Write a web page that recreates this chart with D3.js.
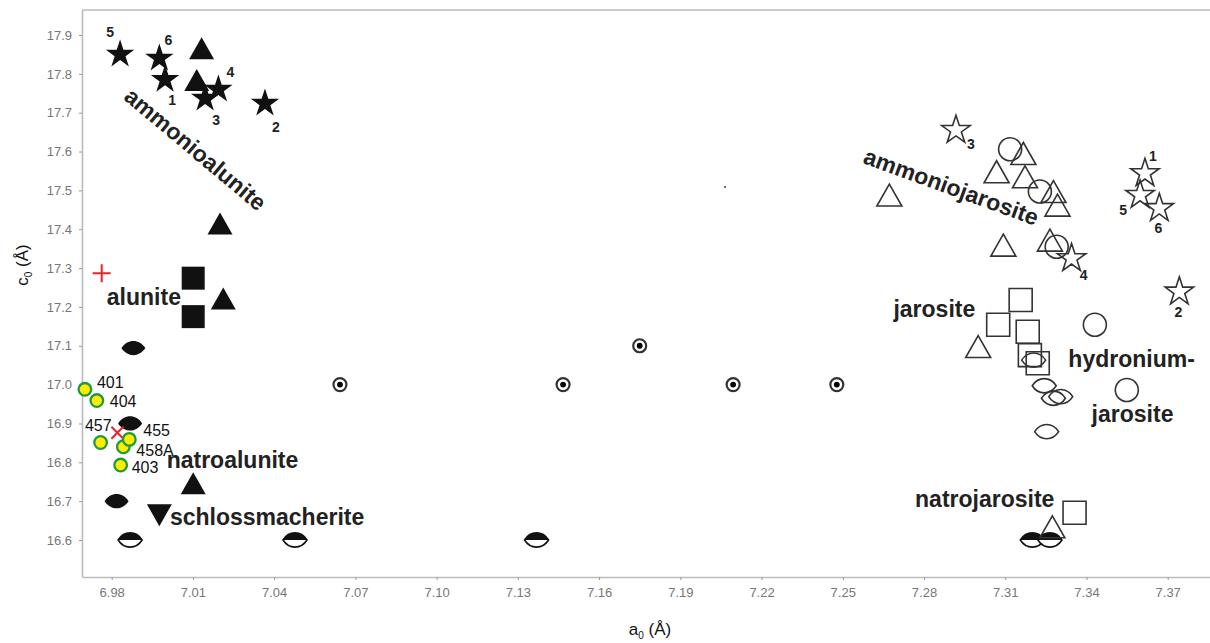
<!DOCTYPE html>
<html>
<head>
<meta charset="utf-8">
<script src="https://cdn.jsdelivr.net/npm/d3@7"></script>
<style>
  body { margin: 0; background: #fff; }
  svg { display: block; font-family: "Liberation Sans", Arial, sans-serif; }
  .axis text { fill: #777; font-size: 13px; }
  .axis path { stroke: #bbb; stroke-width: 1.6; }
  .axis line { stroke: #999; }
  .mineral { font-size: 23px; font-weight: bold; fill: #222; }
  .num { font-size: 14px; font-weight: bold; fill: #222; }
  .sample { font-size: 16px; fill: #111; }
</style>
</head>
<body>
<div id="chart"></div>
<script>
// tick values
var aTicks = [6.98, 7.01, 7.04, 7.07, 7.10, 7.13, 7.16, 7.19, 7.22, 7.25, 7.28, 7.31, 7.34, 7.37];
var cTicks = [16.6, 16.7, 16.8, 16.9, 17.0, 17.1, 17.2, 17.3, 17.4, 17.5, 17.6, 17.7, 17.8, 17.9];

// filled symbols (alunite group)
var filledStars = [[6.9831, 17.850, "5"], [6.9976, 17.840, "6"], [6.9997, 17.785, "1"],
                   [7.0145, 17.737, "3"], [7.0194, 17.760, "4"], [7.0366, 17.724, "2"]];
var filledTriangles = [[7.0132, 17.866], [7.0114, 17.784], [7.0200, 17.415], [7.0212, 17.222], [7.0101, 16.746]];
var filledDownTriangles = [[6.9976, 16.664]];
var filledSquares = [[7.0101, 17.274], [7.0101, 17.175]];
var filledLenses = [[6.9880, 17.094], [6.9868, 16.900], [6.9818, 16.700]];
var halfLenses = [[6.9868, 16.6], [7.0477, 16.6], [7.1369, 16.6], [7.3200, 16.6], [7.3265, 16.6]];
var targets = [[7.0643, 17.0], [7.1467, 17.0], [7.1750, 17.1], [7.2095, 17.0], [7.2478, 17.0]];

// open symbols (jarosite group)
var openStars = [[7.2918, 17.655, "3"], [7.3616, 17.544, "1"], [7.3598, 17.488, "5"],
                 [7.3669, 17.454, "6"], [7.3345, 17.325, "4"], [7.3743, 17.239, "2"]];
var openTriangles = [[7.2672, 17.488], [7.3068, 17.548], [7.3167, 17.595], [7.3173, 17.535], [7.3278, 17.497],
                     [7.3293, 17.462], [7.3093, 17.359], [7.3265, 17.372], [7.3000, 17.098], [7.3274, 16.634]];
var openCircles = [[7.3118, 17.606], [7.3228, 17.497], [7.3290, 17.355], [7.3431, 17.154], [7.3549, 16.986]];
var openSquares = [[7.3157, 17.218], [7.3074, 17.154], [7.3183, 17.136], [7.3191, 17.076], [7.3220, 17.055], [7.3356, 16.670]];
var openLenses = [[7.3205, 17.063], [7.3244, 16.997], [7.3278, 16.965], [7.3305, 16.969], [7.3253, 16.879]];
var strayDots = [[7.2065, 17.509]];

// samples
var samples = [[6.9701, 16.988, "401"], [6.9745, 16.959, "404"], [6.9759, 16.851, "457"],
               [6.9843, 16.840, "458A"], [6.9865, 16.859, "455"], [6.9833, 16.793, "403"]];
var redPlus = [[6.9763, 17.287]];
var redCross = [[6.9821, 16.876]];

// mineral names
var mineralNames = ["ammonioalunite", "alunite", "natroalunite", "schlossmacherite",
                    "ammoniojarosite", "jarosite", "hydronium-", "jarosite", "natrojarosite"];
var mineralA = [6.9841, 6.9782, 7.0003, 7.0015, 7.2571, 7.2687, 7.3333, 7.3419, 7.2767];
var mineralC = [17.736, 17.205, 16.785, 16.639, 17.571, 17.175, 17.045, 16.905, 16.686];
var mineralAngle = [40, 0, 0, 0, 20, 0, 0, 0, 0];

var width = 1210, height = 643;

var svg = d3.select("#chart").append("svg")
  .attr("width", width)
  .attr("height", height);

var x = d3.scaleLinear().domain([6.98, 7.37]).range([111.7, 1167.7]);
x.domain([x.invert(82), x.invert(1210)]).range([82, 1210]);
var y = d3.scaleLinear().domain([16.6, 17.9]).range([540, 35]);
y.domain([y.invert(577), y.invert(10)]).range([577, 10]);

// top frame line
svg.append("line")
  .attr("x1", x.range()[0]).attr("x2", x.range()[1])
  .attr("y1", y.range()[1]).attr("y2", y.range()[1])
  .attr("stroke", "#bbb").attr("stroke-width", 1.6);

svg.append("g")
  .attr("class", "axis")
  .attr("transform", `translate(0,${y.range()[0]})`)
  .call(d3.axisBottom(x).tickValues(aTicks).tickFormat(d3.format(".2f")).tickSize(3).tickPadding(8).tickSizeOuter(0));

svg.append("g")
  .attr("class", "axis")
  .attr("transform", `translate(${x.range()[0]},0)`)
  .call(d3.axisLeft(y).tickValues(cTicks).tickFormat(d3.format(".1f")).tickSize(3).tickPadding(7).tickSizeOuter(0));

// axis titles
var xt = svg.append("text")
  .attr("x", 650).attr("y", 635)
  .attr("text-anchor", "middle")
  .style("font-size", "17px").style("fill", "#111");
xt.append("tspan").text("a");
xt.append("tspan").attr("dy", 4).style("font-size", "10px").text("0");
xt.append("tspan").attr("dy", -4).text(" (Å)");

var yt = svg.append("text")
  .attr("transform", "translate(28,265) rotate(-90)")
  .attr("text-anchor", "middle")
  .style("font-size", "17px").style("fill", "#111");
yt.append("tspan").text("c");
yt.append("tspan").attr("dy", 4).style("font-size", "10px").text("0");
yt.append("tspan").attr("dy", -4).text(" (Å)");

// shape paths
var star = d3.symbol().type(d3.symbolStar).size(250)();
var triUp = "M0,-11L12.5,11L-12.5,11Z";
var triDown = "M0,11L12.5,-11L-12.5,-11Z";
var square = "M-11.5,-11.5H11.5V11.5H-11.5Z";
var lens = "M-12,0C-6,-9.5 6,-9.5 12,0C6,9.5 -6,9.5 -12,0Z";
var lensTop = "M-12,0C-6,-9.5 6,-9.5 12,0Z";

function marks(data, path, fill, stroke, sw) {
  svg.append("g").selectAll("path")
    .data(data)
    .join("path")
    .attr("transform", d => `translate(${x(d[0])},${y(d[1])})`)
    .attr("d", path)
    .attr("fill", fill)
    .attr("stroke", stroke)
    .attr("stroke-width", sw);
}

// mineral text first so symbols sit on top
svg.append("g").selectAll("text")
  .data(mineralNames)
  .join("text")
  .attr("class", "mineral")
  .attr("transform", (d, i) => `translate(${x(mineralA[i])},${y(mineralC[i])}) rotate(${mineralAngle[i]})`)
  .text(d => d);

// filled group
marks(filledStars, star, "#111", "none", 0);
marks(filledTriangles, triUp, "#111", "none", 0);
marks(filledDownTriangles, triDown, "#111", "none", 0);
marks(filledSquares, square, "#111", "none", 0);
marks(filledLenses, lens, "#111", "none", 0);
marks(halfLenses, lens, "#fff", "#111", 1.6);
marks(halfLenses, lensTop, "#111", "none", 0);

// open group
marks(openTriangles, triUp, "none", "#333", 1.6);
marks(openCircles, d3.symbol().type(d3.symbolCircle).size(Math.PI * 11.5 * 11.5)(), "none", "#333", 1.6);
marks(openSquares, square, "none", "#333", 1.6);
marks(openLenses, lens, "none", "#333", 1.6);
marks(openStars, star, "none", "#333", 1.6);

// targets
var tg = svg.append("g").selectAll("g")
  .data(targets)
  .join("g")
  .attr("transform", d => `translate(${x(d[0])},${y(d[1])})`);
tg.append("circle").attr("r", 6.5).attr("fill", "#fff").attr("stroke", "#333").attr("stroke-width", 2.2);
tg.append("circle").attr("r", 2.9).attr("fill", "#000");

svg.append("g").selectAll("circle")
  .data(strayDots)
  .join("circle")
  .attr("cx", d => x(d[0])).attr("cy", d => y(d[1]))
  .attr("r", 0.9).attr("fill", "#222");

// star numbers
var filledNumOffset = {"5": [-10, -22], "6": [9, -18], "1": [7, 20], "3": [11, 22], "4": [12, -17], "2": [11, 24]};
var openNumOffset = {"3": [15, 14], "1": [8, -17], "5": [-17, 15], "6": [-1, 20], "4": [12, 17], "2": [-1, 20]};

svg.append("g").selectAll("text")
  .data(filledStars)
  .join("text")
  .attr("class", "num")
  .attr("text-anchor", "middle")
  .attr("dominant-baseline", "central")
  .attr("x", d => x(d[0]) + filledNumOffset[d[2]][0])
  .attr("y", d => y(d[1]) + filledNumOffset[d[2]][1])
  .text(d => d[2]);

svg.append("g").selectAll("text")
  .data(openStars)
  .join("text")
  .attr("class", "num")
  .attr("text-anchor", "middle")
  .attr("dominant-baseline", "central")
  .attr("x", d => x(d[0]) + openNumOffset[d[2]][0])
  .attr("y", d => y(d[1]) + openNumOffset[d[2]][1])
  .text(d => d[2]);

// red markers
svg.append("g").selectAll("path")
  .data(redPlus)
  .join("path")
  .attr("d", d => `M${x(d[0]) - 9},${y(d[1])}H${x(d[0]) + 9}M${x(d[0])},${y(d[1]) - 9}V${y(d[1]) + 9}`)
  .attr("stroke", "#e8232b").attr("stroke-width", 2);

svg.append("g").selectAll("path")
  .data(redCross)
  .join("path")
  .attr("d", d => `M${x(d[0]) - 6},${y(d[1]) - 6}L${x(d[0]) + 6},${y(d[1]) + 6}M${x(d[0]) + 6},${y(d[1]) - 6}L${x(d[0]) - 6},${y(d[1]) + 6}`)
  .attr("stroke", "#e8232b").attr("stroke-width", 2);

// samples
svg.append("g").selectAll("circle")
  .data(samples)
  .join("circle")
  .attr("cx", d => x(d[0])).attr("cy", d => y(d[1]))
  .attr("r", 6.3)
  .attr("fill", "#ffec00")
  .attr("stroke", "#1f9a3c")
  .attr("stroke-width", 2.3);

var sampleOffset = {"401": [12, -1, "start"], "404": [13, 6, "start"], "457": [11, -11, "end"],
                    "458A": [13, 9, "start"], "455": [14, -3, "start"], "403": [11, 8, "start"]};

svg.append("g").selectAll("text")
  .data(samples)
  .join("text")
  .attr("class", "sample")
  .attr("x", d => x(d[0]) + sampleOffset[d[2]][0])
  .attr("y", d => y(d[1]) + sampleOffset[d[2]][1])
  .attr("text-anchor", d => sampleOffset[d[2]][2])
  .text(d => d[2]);
</script>
</body>
</html>
